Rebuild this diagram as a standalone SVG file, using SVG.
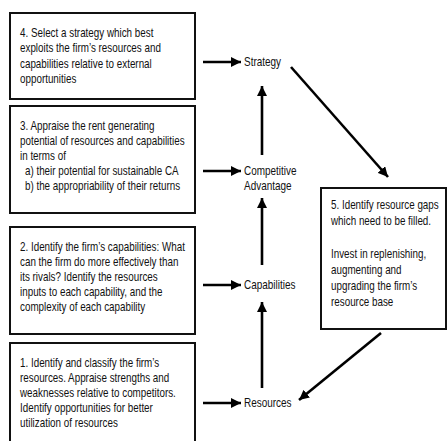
<svg xmlns="http://www.w3.org/2000/svg" width="447" height="441" viewBox="0 0 447 441">
<defs>
<style>
.box{fill:#fff;stroke:#111;stroke-width:2}
.t{font-family:"Liberation Sans",Arial,sans-serif;font-size:12px;fill:#111}
.c{stroke:#000;stroke-width:2.6;fill:none;marker-end:url(#ah)}
</style>
<marker id="ah" markerUnits="userSpaceOnUse" markerWidth="11" markerHeight="10" refX="10" refY="5" orient="auto">
<path d="M0,0 L10,5 L0,10 z" fill="#000"/>
</marker>
</defs>
<rect width="447" height="441" fill="#fff"/>
<g id="connectors">
<line class="c" x1="203" y1="62" x2="241" y2="62"/>
<line class="c" x1="203" y1="171" x2="241" y2="171"/>
<line class="c" x1="203" y1="285" x2="241" y2="285"/>
<line class="c" x1="203" y1="403" x2="241" y2="403"/>
<line class="c" x1="262" y1="155" x2="262" y2="86"/>
<line class="c" x1="262" y1="265" x2="262" y2="198"/>
<line class="c" x1="262" y1="388" x2="262" y2="302"/>
<line class="c" x1="291" y1="67" x2="388" y2="177"/>
<line class="c" x1="381" y1="333" x2="299" y2="400"/>
</g>
<g id="box4">
<rect class="box" x="10" y="13" width="185" height="86"/>
<g transform="translate(20,0) scale(0.82,1)">
<text class="t" x="0" y="37">4. Select a strategy which best</text>
<text class="t" x="0" y="52.5">exploits the firm’s resources and</text>
<text class="t" x="0" y="68">capabilities relative to external</text>
<text class="t" x="0" y="83.5">opportunities</text>
</g>
</g>
<g id="box3">
<rect class="box" x="10" y="106" width="185" height="107"/>
<g transform="translate(20,0) scale(0.82,1)">
<text class="t" x="0" y="130">3. Appraise the rent generating</text>
<text class="t" x="0" y="145">potential of resources and capabilities</text>
<text class="t" x="0" y="160">in terms of</text>
<text class="t" x="6" y="175">a) their potential for sustainable CA</text>
<text class="t" x="6" y="190">b) the appropriability of their returns</text>
</g>
</g>
<g id="box2">
<rect class="box" x="10" y="227" width="185" height="107"/>
<g transform="translate(20,0) scale(0.82,1)">
<text class="t" x="0" y="251">2. Identify the firm’s capabilities: What</text>
<text class="t" x="0" y="266">can the firm do more effectively than</text>
<text class="t" x="0" y="281">its rivals? Identify the resources</text>
<text class="t" x="0" y="296">inputs to each capability, and the</text>
<text class="t" x="0" y="311">complexity of each capability</text>
</g>
</g>
<g id="box1">
<rect class="box" x="10" y="343" width="185" height="110"/>
<g transform="translate(20,0) scale(0.82,1)">
<text class="t" x="0" y="367">1. Identify and classify the firm’s</text>
<text class="t" x="0" y="382">resources. Appraise strengths and</text>
<text class="t" x="0" y="397">weaknesses relative to competitors.</text>
<text class="t" x="0" y="412">Identify opportunities for better</text>
<text class="t" x="0" y="427">utilization of resources</text>
</g>
</g>
<g id="box5">
<rect class="box" x="321" y="188" width="125" height="141"/>
<g transform="translate(331,0) scale(0.82,1)">
<text class="t" x="0" y="209">5. Identify resource gaps</text>
<text class="t" x="0" y="225">which need to be filled.</text>
<text class="t" x="0" y="258">Invest in replenishing,</text>
<text class="t" x="0" y="274">augmenting and</text>
<text class="t" x="0" y="290">upgrading the firm’s</text>
<text class="t" x="0" y="306">resource base</text>
</g>
</g>
<g id="strategy">
<g transform="translate(244,0) scale(0.83,1)"><text class="t" x="0" y="66">Strategy</text></g>
</g>
<g id="competitive-advantage">
<g transform="translate(244,0) scale(0.83,1)">
<text class="t" x="0" y="175">Competitive</text>
<text class="t" x="0" y="190">Advantage</text>
</g>
</g>
<g id="capabilities">
<g transform="translate(244,0) scale(0.83,1)"><text class="t" x="0" y="289">Capabilities</text></g>
</g>
<g id="resources">
<g transform="translate(244,0) scale(0.83,1)"><text class="t" x="0" y="407">Resources</text></g>
</g>
</svg>
